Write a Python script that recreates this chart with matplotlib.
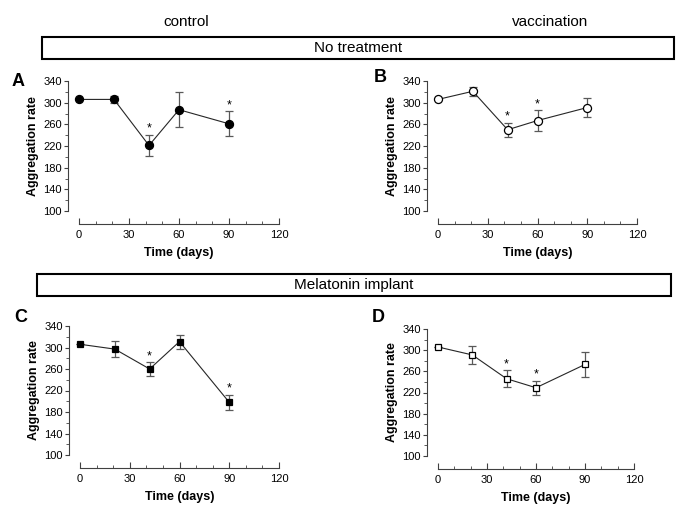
import matplotlib.pyplot as plt
from matplotlib.patches import Rectangle
from matplotlib.ticker import MultipleLocator

plt.rcParams["font.family"] = ["Liberation Sans", "DejaVu Sans"]

days = [0, 21, 42, 60, 90]
y_ticks = [100, 140, 180, 220, 260, 300, 340]
x_ticks = [0, 30, 60, 90, 120]

mean_a = [306, 306, 221, 287, 261]
err_a = [0, 6, 20, 32, 23]
star_a = [42, 90]

mean_b = [306, 321, 250, 267, 291]
err_b = [0, 8, 13, 19, 18]
star_b = [42, 60]

mean_c = [306, 297, 260, 311, 198]
err_c = [0, 15, 13, 13, 14]
star_c = [42, 90]

mean_d = [306, 291, 246, 229, 273]
err_d = [0, 17, 16, 13, 23]
star_d = [42, 60]

W, H = 685, 524
fig = plt.figure(figsize=(W / 100, H / 100), dpi=100)


def px_axes(x0, x1, y0, y1):
    # pixel box (data area) -> figure axes
    return fig.add_axes([x0 / W, 1 - y1 / H, (x1 - x0) / W, (y1 - y0) / H])


def panel(ax, mean, err, stars, marker, face, ms):
    ax.errorbar(days, mean, yerr=err, fmt="none", ecolor="0.35", elinewidth=0.9,
                capsize=3, capthick=0.9, clip_on=False, zorder=2)
    ax.plot(days, mean, color="0.15", lw=0.8, marker=marker, ms=ms,
            mfc=face, mec="black", mew=0.9, clip_on=False, zorder=3)
    for s in stars:
        i = days.index(s)
        ax.annotate("*", (s, mean[i] + err[i]), xytext=(0, 0), textcoords="offset points",
                    ha="center", va="bottom", fontsize=9)
    ax.set_xlim(0, 120)
    ax.set_ylim(100, 340)
    for side in ["top", "right"]:
        ax.spines[side].set_visible(False)
    ax.spines["left"].set_position(("outward", 8))
    ax.spines["bottom"].set_position(("outward", 9))
    ax.spines["left"].set_bounds(100, 340)
    ax.spines["bottom"].set_bounds(0, 120)
    for sp in ["left", "bottom"]:
        ax.spines[sp].set_linewidth(0.8)
        ax.spines[sp].set_color("0.25")
    ax.set_xticks(x_ticks)
    ax.set_yticks(y_ticks)
    ax.xaxis.set_minor_locator(MultipleLocator(10))
    ax.yaxis.set_minor_locator(MultipleLocator(20))
    ax.tick_params(axis="x", which="both", direction="in", labelsize=8, pad=5, color="0.25")
    ax.tick_params(axis="x", which="major", length=4)
    ax.tick_params(axis="x", which="minor", length=2.5)
    ax.tick_params(axis="y", which="both", direction="out", labelsize=8, pad=1.5, color="0.25")
    ax.tick_params(axis="y", which="major", length=3)
    ax.tick_params(axis="y", which="minor", length=2)
    ax.set_ylabel("Aggregation rate", fontweight="bold", fontsize=9, labelpad=3)
    ax.set_xlabel("Time (days)", fontweight="bold", fontsize=9, labelpad=5)


ax_a = px_axes(79, 279, 81, 211)
ax_b = px_axes(438, 637, 81, 211)
ax_c = px_axes(80, 279, 326, 455)
ax_d = px_axes(438, 634, 329, 456)

panel(ax_a, mean_a, err_a, star_a, "o", "black", 5.8)
panel(ax_b, mean_b, err_b, star_b, "o", "white", 5.8)
panel(ax_c, mean_c, err_c, star_c, "s", "black", 5.0)
panel(ax_d, mean_d, err_d, star_d, "s", "white", 5.0)

# panel letters
for (lx, ly, letter) in [(12, 82, "A"), (374, 78, "B"), (14, 318, "C"), (372, 318, "D")]:
    fig.text(lx / W, 1 - ly / H, letter, fontsize=13, fontweight="bold",
             ha="left", va="center")

# column headers
fig.text(186 / W, 1 - 22 / H, "control", ha="center", va="center", fontsize=11)
fig.text(550 / W, 1 - 22 / H, "vaccination", ha="center", va="center", fontsize=11)

# group boxes
for (x0, x1, y0, y1, label) in [(42, 674, 37, 59, "No treatment"),
                                (37, 671, 274, 296, "Melatonin implant")]:
    fig.patches.append(Rectangle((x0 / W, 1 - y1 / H), (x1 - x0) / W, (y1 - y0) / H,
                                 transform=fig.transFigure, fill=False,
                                 edgecolor="black", lw=1.5))
    fig.text((x0 + x1) / 2 / W, 1 - (y0 + y1) / 2 / H, label, ha="center",
             va="center", fontsize=11)

fig.savefig("out.png", dpi=100)
